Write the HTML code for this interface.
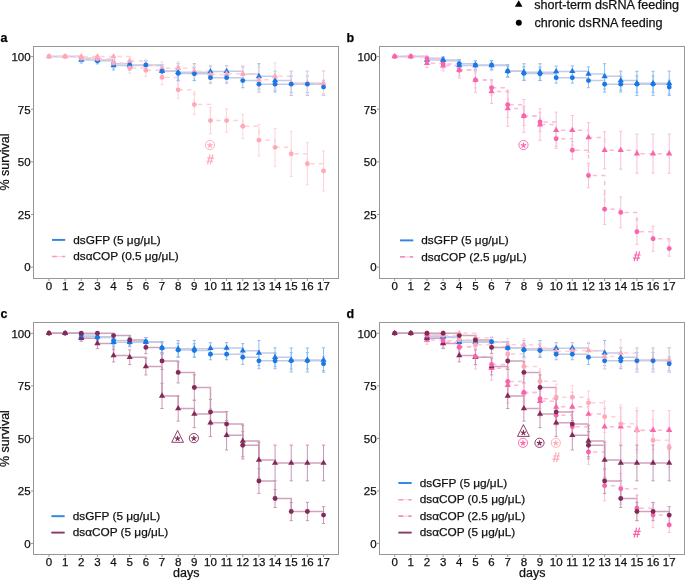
<!DOCTYPE html>
<html><head><meta charset="utf-8"><style>
html,body{margin:0;padding:0;background:#fff;overflow:hidden;width:685px;height:580px;}
svg{display:block;will-change:transform;}
text{font-family:"Liberation Sans",sans-serif;fill:#111;stroke:#111;stroke-width:0.25px;}
.tk{font-size:11.5px;}
.lg{font-size:11.8px;}
.at{font-size:12.5px;}
.tl{font-size:12.6px;}
.pl{font-size:12.5px;font-weight:bold;fill:#000;}
.hs{font-size:14.5px;}
</style></head><body>
<svg width="685" height="580" viewBox="0 0 685 580">
<path d="M48.97,56.57H65.12V56.57H81.27V59.94H97.42V59.94H113.57V65.41H129.72V65.41H145.87V65.41H162.02V71.1H178.17V72.15H194.32V72.15H210.47V71.52H226.62V71.31H242.77V74.05H258.92V76.36H275.07V80.58H291.22V83.31H307.37V83.31H323.52V83.31" fill="none" stroke="#c3cbe6" stroke-width="1.5"/>
<path d="M48.97,56.57H65.12V56.57H81.27V58.25H97.42V60.78H113.57V63.73H129.72V64.99H145.87V64.99H162.02V71.31H178.17V73.42H194.32V73.84H210.47V77.63H226.62V77.63H242.77V80.58H258.92V84.16H275.07V84.16H291.22V84.16H307.37V84.16H323.52V87.1" fill="none" stroke="#c3cbe6" stroke-width="1.5"/>
<path d="M48.97,56.57H65.12V56.57H81.27V56.57H97.42V56.57H113.57V56.57H129.72V60.99H145.87V65.2H162.02V68.15H178.17V68.15H194.32V71.31H210.47V74.47H226.62V73.84H242.77V73.84H258.92V79.73H275.07V76.36H291.22V82.89H307.37V82.89H323.52V83.31" fill="none" stroke="#ffd0d8" stroke-width="1.5" stroke-dasharray="4.285 4.285"/>
<path d="M48.97,56.57H65.12V56.57H81.27V58.25H97.42V58.68H113.57V63.1H129.72V67.94H145.87V70.26H162.02V77.42H178.17V89.84H194.32V104.58H210.47V120.59H226.62V120.59H242.77V126.27H258.92V140.17H275.07V147.33H291.22V153.86H307.37V163.76H323.52V170.91" fill="none" stroke="#ffd0d8" stroke-width="1.5" stroke-dasharray="4.285 4.285"/>
<path d="M81.27,56.78V63.1M79.67,56.78H82.87M79.67,63.1H82.87M97.42,56.78V63.1M95.82,56.78H99.02M95.82,63.1H99.02M113.57,60.78V70.05M111.97,60.78H115.17M111.97,70.05H115.17M129.72,60.78V70.05M128.12,60.78H131.32M128.12,70.05H131.32M145.87,60.78V70.05M144.27,60.78H147.47M144.27,70.05H147.47M162.02,64.78V77.42M160.42,64.78H163.62M160.42,77.42H163.62M178.17,63.73V80.58M176.57,63.73H179.77M176.57,80.58H179.77M194.32,63.73V80.58M192.72,63.73H195.92M192.72,80.58H195.92M210.47,66.05V77M208.87,66.05H212.07M208.87,77H212.07M226.62,65.84V76.79M225.02,65.84H228.22M225.02,76.79H228.22M242.77,66.89V81.21M241.17,66.89H244.37M241.17,81.21H244.37M258.92,63.73V89M257.32,63.73H260.52M257.32,89H260.52M275.07,71.1V90.05M273.47,71.1H276.67M273.47,90.05H276.67M291.22,71.31V95.32M289.62,71.31H292.82M289.62,95.32H292.82M307.37,71.31V95.32M305.77,71.31H308.97M305.77,95.32H308.97M323.52,71.1V95.53M321.92,71.1H325.12M321.92,95.53H325.12" fill="none" stroke="#8fbdf1" stroke-width="1"/>
<path d="M81.27,56.15V60.36M79.67,56.15H82.87M79.67,60.36H82.87M97.42,57.62V63.94M95.82,57.62H99.02M95.82,63.94H99.02M113.57,59.52V67.94M111.97,59.52H115.17M111.97,67.94H115.17M129.72,60.78V69.2M128.12,60.78H131.32M128.12,69.2H131.32M145.87,60.78V69.2M144.27,60.78H147.47M144.27,69.2H147.47M162.02,66.05V76.58M160.42,66.05H163.62M160.42,76.58H163.62M178.17,66.68V80.15M176.57,66.68H179.77M176.57,80.15H179.77M194.32,67.1V80.58M192.72,67.1H195.92M192.72,80.58H195.92M210.47,72.15V83.1M208.87,72.15H212.07M208.87,83.1H212.07M226.62,72.15V83.1M225.02,72.15H228.22M225.02,83.1H228.22M242.77,73.42V87.74M241.17,73.42H244.37M241.17,87.74H244.37M258.92,76.26V92.05M257.32,76.26H260.52M257.32,92.05H260.52M275.07,76.26V92.05M273.47,76.26H276.67M273.47,92.05H276.67M291.22,75.94V92.37M289.62,75.94H292.82M289.62,92.37H292.82M307.37,75.94V92.37M305.77,75.94H308.97M305.77,92.37H308.97M323.52,80.15V94.05M321.92,80.15H325.12M321.92,94.05H325.12" fill="none" stroke="#8fbdf1" stroke-width="1"/>
<path d="M129.72,56.78V65.2M128.12,56.78H131.32M128.12,65.2H131.32M145.87,59.94V70.47M144.27,59.94H147.47M144.27,70.47H147.47M162.02,61.83V74.47M160.42,61.83H163.62M160.42,74.47H163.62M178.17,61.83V74.47M176.57,61.83H179.77M176.57,74.47H179.77M194.32,64.99V77.63M192.72,64.99H195.92M192.72,77.63H195.92M210.47,67.1V81.84M208.87,67.1H212.07M208.87,81.84H212.07M226.62,66.47V81.21M225.02,66.47H228.22M225.02,81.21H228.22M242.77,65.41V82.26M241.17,65.41H244.37M241.17,82.26H244.37M258.92,67.31V92.16M257.32,67.31H260.52M257.32,92.16H260.52M275.07,62.89V89.84M273.47,62.89H276.67M273.47,89.84H276.67M291.22,71.1V94.68M289.62,71.1H292.82M289.62,94.68H292.82M307.37,71.1V94.68M305.77,71.1H308.97M305.77,94.68H308.97M323.52,71.52V95.11M321.92,71.52H325.12M321.92,95.11H325.12" fill="none" stroke="#ffd3db" stroke-width="1"/>
<path d="M81.27,56.15V60.36M79.67,56.15H82.87M79.67,60.36H82.87M97.42,55.52V61.83M95.82,55.52H99.02M95.82,61.83H99.02M113.57,58.89V67.31M111.97,58.89H115.17M111.97,67.31H115.17M129.72,62.68V73.21M128.12,62.68H131.32M128.12,73.21H131.32M145.87,63.94V76.58M144.27,63.94H147.47M144.27,76.58H147.47M162.02,70.05V84.79M160.42,70.05H163.62M160.42,84.79H163.62M178.17,81.42V98.26M176.57,81.42H179.77M176.57,98.26H179.77M194.32,94.47V114.69M192.72,94.47H195.92M192.72,114.69H195.92M210.47,107.53V133.64M208.87,107.53H212.07M208.87,133.64H212.07M226.62,109V132.17M225.02,109H228.22M225.02,132.17H228.22M242.77,114.27V138.28M241.17,114.27H244.37M241.17,138.28H244.37M258.92,124.38V155.96M257.32,124.38H260.52M257.32,155.96H260.52M275.07,128.38V166.28M273.47,128.38H276.67M273.47,166.28H276.67M291.22,131.33V176.39M289.62,131.33H292.82M289.62,176.39H292.82M307.37,142.7V184.81M305.77,142.7H308.97M305.77,184.81H308.97M323.52,150.91V190.92M321.92,150.91H325.12M321.92,190.92H325.12" fill="none" stroke="#ffd3db" stroke-width="1"/>
<path d="M81.27,56.36L84.37,61.73L78.17,61.73Z" fill="#1a78e6"/><path d="M97.42,56.36L100.52,61.73L94.32,61.73Z" fill="#1a78e6"/><path d="M113.57,61.83L116.67,67.2L110.47,67.2Z" fill="#1a78e6"/><path d="M129.72,61.83L132.82,67.2L126.62,67.2Z" fill="#1a78e6"/><path d="M162.02,67.52L165.12,72.89L158.92,72.89Z" fill="#1a78e6"/><path d="M178.17,68.57L181.27,73.94L175.07,73.94Z" fill="#1a78e6"/><path d="M194.32,68.57L197.42,73.94L191.22,73.94Z" fill="#1a78e6"/><path d="M210.47,67.94L213.57,73.31L207.37,73.31Z" fill="#1a78e6"/><path d="M226.62,67.73L229.72,73.1L223.52,73.1Z" fill="#1a78e6"/><path d="M258.92,72.79L262.02,78.15L255.82,78.15Z" fill="#1a78e6"/><path d="M275.07,77L278.17,82.37L271.97,82.37Z" fill="#1a78e6"/>
<path d="M48.97,52.99L52.07,58.36L45.87,58.36Z" fill="#ffa8b8"/><path d="M65.12,52.99L68.22,58.36L62.02,58.36Z" fill="#ffa8b8"/><path d="M81.27,52.99L84.37,58.36L78.17,58.36Z" fill="#ffa8b8"/><path d="M97.42,52.99L100.52,58.36L94.32,58.36Z" fill="#ffa8b8"/><path d="M113.57,52.99L116.67,58.36L110.47,58.36Z" fill="#ffa8b8"/><path d="M129.72,57.41L132.82,62.78L126.62,62.78Z" fill="#ffa8b8"/><path d="M145.87,61.62L148.97,66.99L142.77,66.99Z" fill="#ffa8b8"/><path d="M162.02,64.57L165.12,69.94L158.92,69.94Z" fill="#ffa8b8"/><path d="M178.17,64.57L181.27,69.94L175.07,69.94Z" fill="#ffa8b8"/><path d="M194.32,67.73L197.42,73.1L191.22,73.1Z" fill="#ffa8b8"/><path d="M210.47,70.89L213.57,76.26L207.37,76.26Z" fill="#ffa8b8"/><path d="M226.62,70.26L229.72,75.63L223.52,75.63Z" fill="#ffa8b8"/><path d="M242.77,70.26L245.87,75.63L239.67,75.63Z" fill="#ffa8b8"/><path d="M258.92,76.15L262.02,81.52L255.82,81.52Z" fill="#ffa8b8"/><path d="M275.07,72.79L278.17,78.15L271.97,78.15Z" fill="#ffa8b8"/><path d="M291.22,79.31L294.32,84.68L288.12,84.68Z" fill="#ffa8b8"/><path d="M307.37,79.31L310.47,84.68L304.27,84.68Z" fill="#ffa8b8"/><path d="M323.52,79.73L326.62,85.1L320.42,85.1Z" fill="#ffa8b8"/>
<circle cx="97.42" cy="60.78" r="2.45" fill="#1a78e6"/><circle cx="113.57" cy="63.73" r="2.45" fill="#1a78e6"/><circle cx="129.72" cy="64.99" r="2.45" fill="#1a78e6"/><circle cx="145.87" cy="64.99" r="2.45" fill="#1a78e6"/><circle cx="162.02" cy="71.31" r="2.45" fill="#1a78e6"/><circle cx="178.17" cy="73.42" r="2.45" fill="#1a78e6"/><circle cx="194.32" cy="73.84" r="2.45" fill="#1a78e6"/><circle cx="210.47" cy="77.63" r="2.45" fill="#1a78e6"/><circle cx="226.62" cy="77.63" r="2.45" fill="#1a78e6"/><circle cx="242.77" cy="80.58" r="2.45" fill="#1a78e6"/><circle cx="258.92" cy="84.16" r="2.45" fill="#1a78e6"/><circle cx="275.07" cy="84.16" r="2.45" fill="#1a78e6"/><circle cx="291.22" cy="84.16" r="2.45" fill="#1a78e6"/><circle cx="307.37" cy="84.16" r="2.45" fill="#1a78e6"/><circle cx="323.52" cy="87.1" r="2.45" fill="#1a78e6"/>
<circle cx="48.97" cy="56.57" r="2.45" fill="#ffa8b8"/><circle cx="65.12" cy="56.57" r="2.45" fill="#ffa8b8"/><circle cx="81.27" cy="58.25" r="2.45" fill="#ffa8b8"/><circle cx="97.42" cy="58.68" r="2.45" fill="#ffa8b8"/><circle cx="113.57" cy="63.1" r="2.45" fill="#ffa8b8"/><circle cx="129.72" cy="67.94" r="2.45" fill="#ffa8b8"/><circle cx="145.87" cy="70.26" r="2.45" fill="#ffa8b8"/><circle cx="162.02" cy="77.42" r="2.45" fill="#ffa8b8"/><circle cx="178.17" cy="89.84" r="2.45" fill="#ffa8b8"/><circle cx="194.32" cy="104.58" r="2.45" fill="#ffa8b8"/><circle cx="210.47" cy="120.59" r="2.45" fill="#ffa8b8"/><circle cx="226.62" cy="120.59" r="2.45" fill="#ffa8b8"/><circle cx="242.77" cy="126.27" r="2.45" fill="#ffa8b8"/><circle cx="258.92" cy="140.17" r="2.45" fill="#ffa8b8"/><circle cx="275.07" cy="147.33" r="2.45" fill="#ffa8b8"/><circle cx="291.22" cy="153.86" r="2.45" fill="#ffa8b8"/><circle cx="307.37" cy="163.76" r="2.45" fill="#ffa8b8"/><circle cx="323.52" cy="170.91" r="2.45" fill="#ffa8b8"/>
<rect x="33.5" y="46.5" width="305" height="232" fill="none" stroke="#979797" stroke-width="1"/>
<path d="M31,267.15H33.5" stroke="#979797" stroke-width="1"/>
<text x="30.6" y="271.45" text-anchor="end" class="tk">0</text>
<path d="M31,214.5H33.5" stroke="#979797" stroke-width="1"/>
<text x="30.6" y="218.81" text-anchor="end" class="tk">25</text>
<path d="M31,161.86H33.5" stroke="#979797" stroke-width="1"/>
<text x="30.6" y="166.16" text-anchor="end" class="tk">50</text>
<path d="M31,109.21H33.5" stroke="#979797" stroke-width="1"/>
<text x="30.6" y="113.51" text-anchor="end" class="tk">75</text>
<path d="M31,56.57H33.5" stroke="#979797" stroke-width="1"/>
<text x="30.6" y="60.87" text-anchor="end" class="tk">100</text>
<path d="M48.97,278.5V281" stroke="#979797" stroke-width="1"/>
<text x="48.97" y="289.9" text-anchor="middle" class="tk">0</text>
<path d="M65.12,278.5V281" stroke="#979797" stroke-width="1"/>
<text x="65.12" y="289.9" text-anchor="middle" class="tk">1</text>
<path d="M81.27,278.5V281" stroke="#979797" stroke-width="1"/>
<text x="81.27" y="289.9" text-anchor="middle" class="tk">2</text>
<path d="M97.42,278.5V281" stroke="#979797" stroke-width="1"/>
<text x="97.42" y="289.9" text-anchor="middle" class="tk">3</text>
<path d="M113.57,278.5V281" stroke="#979797" stroke-width="1"/>
<text x="113.57" y="289.9" text-anchor="middle" class="tk">4</text>
<path d="M129.72,278.5V281" stroke="#979797" stroke-width="1"/>
<text x="129.72" y="289.9" text-anchor="middle" class="tk">5</text>
<path d="M145.87,278.5V281" stroke="#979797" stroke-width="1"/>
<text x="145.87" y="289.9" text-anchor="middle" class="tk">6</text>
<path d="M162.02,278.5V281" stroke="#979797" stroke-width="1"/>
<text x="162.02" y="289.9" text-anchor="middle" class="tk">7</text>
<path d="M178.17,278.5V281" stroke="#979797" stroke-width="1"/>
<text x="178.17" y="289.9" text-anchor="middle" class="tk">8</text>
<path d="M194.32,278.5V281" stroke="#979797" stroke-width="1"/>
<text x="194.32" y="289.9" text-anchor="middle" class="tk">9</text>
<path d="M210.47,278.5V281" stroke="#979797" stroke-width="1"/>
<text x="210.47" y="289.9" text-anchor="middle" class="tk">10</text>
<path d="M226.62,278.5V281" stroke="#979797" stroke-width="1"/>
<text x="226.62" y="289.9" text-anchor="middle" class="tk">11</text>
<path d="M242.77,278.5V281" stroke="#979797" stroke-width="1"/>
<text x="242.77" y="289.9" text-anchor="middle" class="tk">12</text>
<path d="M258.92,278.5V281" stroke="#979797" stroke-width="1"/>
<text x="258.92" y="289.9" text-anchor="middle" class="tk">13</text>
<path d="M275.07,278.5V281" stroke="#979797" stroke-width="1"/>
<text x="275.07" y="289.9" text-anchor="middle" class="tk">14</text>
<path d="M291.22,278.5V281" stroke="#979797" stroke-width="1"/>
<text x="291.22" y="289.9" text-anchor="middle" class="tk">15</text>
<path d="M307.37,278.5V281" stroke="#979797" stroke-width="1"/>
<text x="307.37" y="289.9" text-anchor="middle" class="tk">16</text>
<path d="M323.52,278.5V281" stroke="#979797" stroke-width="1"/>
<text x="323.52" y="289.9" text-anchor="middle" class="tk">17</text>
<path d="M394.67,56.57H410.82V56.57H426.97V59.94H443.12V59.94H459.27V65.41H475.42V65.41H491.57V65.41H507.72V71.1H523.87V72.15H540.02V72.15H556.17V71.52H572.32V71.31H588.47V74.05H604.62V76.36H620.77V80.58H636.92V83.31H653.07V83.31H669.22V83.31" fill="none" stroke="#c3cbe6" stroke-width="1.5"/>
<path d="M394.67,56.57H410.82V56.57H426.97V58.25H443.12V60.78H459.27V63.73H475.42V64.99H491.57V64.99H507.72V71.31H523.87V73.42H540.02V73.84H556.17V77.63H572.32V77.63H588.47V80.58H604.62V84.16H620.77V84.16H636.92V84.16H653.07V84.16H669.22V87.1" fill="none" stroke="#c3cbe6" stroke-width="1.5"/>
<path d="M394.67,56.57H410.82V56.57H426.97V63.31H443.12V65.62H459.27V69.84H475.42V79.94H491.57V91.53H507.72V108.58H523.87V115.95H540.02V124.59H556.17V130.27H572.32V130.27H588.47V137.43H604.62V150.28H620.77V150.28H636.92V153.65H653.07V153.65H669.22V153.65" fill="none" stroke="#fbbcd8" stroke-width="1.5" stroke-dasharray="4.285 4.285"/>
<path d="M394.67,56.57H410.82V56.57H426.97V58.68H443.12V63.94H459.27V70.26H475.42V79.94H491.57V87.74H507.72V104.79H523.87V115.95H540.02V122.06H556.17V138.7H572.32V150.28H588.47V175.55H604.62V209.24H620.77V212.4H636.92V231.77H653.07V238.72H669.22V248.62" fill="none" stroke="#fbbcd8" stroke-width="1.5" stroke-dasharray="4.285 4.285"/>
<path d="M426.97,56.78V63.1M425.37,56.78H428.57M425.37,63.1H428.57M443.12,56.78V63.1M441.52,56.78H444.72M441.52,63.1H444.72M459.27,60.78V70.05M457.67,60.78H460.87M457.67,70.05H460.87M475.42,60.78V70.05M473.82,60.78H477.02M473.82,70.05H477.02M491.57,60.78V70.05M489.97,60.78H493.17M489.97,70.05H493.17M507.72,64.78V77.42M506.12,64.78H509.32M506.12,77.42H509.32M523.87,63.73V80.58M522.27,63.73H525.47M522.27,80.58H525.47M540.02,63.73V80.58M538.42,63.73H541.62M538.42,80.58H541.62M556.17,66.05V77M554.57,66.05H557.77M554.57,77H557.77M572.32,65.84V76.79M570.72,65.84H573.92M570.72,76.79H573.92M588.47,66.89V81.21M586.87,66.89H590.07M586.87,81.21H590.07M604.62,63.73V89M603.02,63.73H606.22M603.02,89H606.22M620.77,71.1V90.05M619.17,71.1H622.37M619.17,90.05H622.37M636.92,71.31V95.32M635.32,71.31H638.52M635.32,95.32H638.52M653.07,71.31V95.32M651.47,71.31H654.67M651.47,95.32H654.67M669.22,71.1V95.53M667.62,71.1H670.82M667.62,95.53H670.82" fill="none" stroke="#8fbdf1" stroke-width="1"/>
<path d="M426.97,56.15V60.36M425.37,56.15H428.57M425.37,60.36H428.57M443.12,57.62V63.94M441.52,57.62H444.72M441.52,63.94H444.72M459.27,59.52V67.94M457.67,59.52H460.87M457.67,67.94H460.87M475.42,60.78V69.2M473.82,60.78H477.02M473.82,69.2H477.02M491.57,60.78V69.2M489.97,60.78H493.17M489.97,69.2H493.17M507.72,66.05V76.58M506.12,66.05H509.32M506.12,76.58H509.32M523.87,66.68V80.15M522.27,66.68H525.47M522.27,80.15H525.47M540.02,67.1V80.58M538.42,67.1H541.62M538.42,80.58H541.62M556.17,72.15V83.1M554.57,72.15H557.77M554.57,83.1H557.77M572.32,72.15V83.1M570.72,72.15H573.92M570.72,83.1H573.92M588.47,73.42V87.74M586.87,73.42H590.07M586.87,87.74H590.07M604.62,76.26V92.05M603.02,76.26H606.22M603.02,92.05H606.22M620.77,76.26V92.05M619.17,76.26H622.37M619.17,92.05H622.37M636.92,75.94V92.37M635.32,75.94H638.52M635.32,92.37H638.52M653.07,75.94V92.37M651.47,75.94H654.67M651.47,92.37H654.67M669.22,80.15V94.05M667.62,80.15H670.82M667.62,94.05H670.82" fill="none" stroke="#8fbdf1" stroke-width="1"/>
<path d="M426.97,59.1V67.52M425.37,59.1H428.57M425.37,67.52H428.57M443.12,60.36V70.89M441.52,60.36H444.72M441.52,70.89H444.72M459.27,63.52V76.15M457.67,63.52H460.87M457.67,76.15H460.87M475.42,67.52V92.37M473.82,67.52H477.02M473.82,92.37H477.02M491.57,79.52V103.53M489.97,79.52H493.17M489.97,103.53H493.17M507.72,90.89V126.27M506.12,90.89H509.32M506.12,126.27H509.32M523.87,99.53V132.38M522.27,99.53H525.47M522.27,132.38H525.47M540.02,108.79V140.38M538.42,108.79H541.62M538.42,140.38H541.62M556.17,112.16V148.38M554.57,112.16H557.77M554.57,148.38H557.77M572.32,115.53V145.01M570.72,115.53H573.92M570.72,145.01H573.92M588.47,122.69V152.17M586.87,122.69H590.07M586.87,152.17H590.07M604.62,131.75V168.81M603.02,131.75H606.22M603.02,168.81H606.22M620.77,131.33V169.23M619.17,131.33H622.37M619.17,169.23H622.37M636.92,134.06V173.23M635.32,134.06H638.52M635.32,173.23H638.52M653.07,134.06V173.23M651.47,134.06H654.67M651.47,173.23H654.67M669.22,134.06V173.23M667.62,134.06H670.82M667.62,173.23H670.82" fill="none" stroke="#fbbfdb" stroke-width="1"/>
<path d="M426.97,56.57V60.78M425.37,56.57H428.57M425.37,60.78H428.57M443.12,59.73V68.15M441.52,59.73H444.72M441.52,68.15H444.72M459.27,62.36V78.15M457.67,62.36H460.87M457.67,78.15H460.87M475.42,71.94V87.95M473.82,71.94H477.02M473.82,87.95H477.02M491.57,80.37V95.11M489.97,80.37H493.17M489.97,95.11H493.17M507.72,92.16V117.43M506.12,92.16H509.32M506.12,117.43H509.32M523.87,106.48V125.43M522.27,106.48H525.47M522.27,125.43H525.47M540.02,112.37V131.75M538.42,112.37H541.62M538.42,131.75H541.62M556.17,131.12V146.28M554.57,131.12H557.77M554.57,146.28H557.77M572.32,141.43V159.12M570.72,141.43H573.92M570.72,159.12H573.92M588.47,163.33V187.76M586.87,163.33H590.07M586.87,187.76H590.07M604.62,194.08V224.4M603.02,194.08H606.22M603.02,224.4H606.22M620.77,197.03V227.77M619.17,197.03H622.37M619.17,227.77H622.37M636.92,219.14V244.41M635.32,219.14H638.52M635.32,244.41H638.52M653.07,226.09V251.36M651.47,226.09H654.67M651.47,251.36H654.67M669.22,241.04V256.2M667.62,241.04H670.82M667.62,256.2H670.82" fill="none" stroke="#fbbfdb" stroke-width="1"/>
<path d="M426.97,56.36L430.07,61.73L423.87,61.73Z" fill="#1a78e6"/><path d="M443.12,56.36L446.22,61.73L440.02,61.73Z" fill="#1a78e6"/><path d="M459.27,61.83L462.37,67.2L456.17,67.2Z" fill="#1a78e6"/><path d="M475.42,61.83L478.52,67.2L472.32,67.2Z" fill="#1a78e6"/><path d="M491.57,61.83L494.67,67.2L488.47,67.2Z" fill="#1a78e6"/><path d="M507.72,67.52L510.82,72.89L504.62,72.89Z" fill="#1a78e6"/><path d="M523.87,68.57L526.97,73.94L520.77,73.94Z" fill="#1a78e6"/><path d="M540.02,68.57L543.12,73.94L536.92,73.94Z" fill="#1a78e6"/><path d="M556.17,67.94L559.27,73.31L553.07,73.31Z" fill="#1a78e6"/><path d="M572.32,67.73L575.42,73.1L569.22,73.1Z" fill="#1a78e6"/><path d="M588.47,70.47L591.57,75.84L585.37,75.84Z" fill="#1a78e6"/><path d="M604.62,72.79L607.72,78.15L601.52,78.15Z" fill="#1a78e6"/><path d="M620.77,77L623.87,82.37L617.67,82.37Z" fill="#1a78e6"/><path d="M636.92,79.73L640.02,85.1L633.82,85.1Z" fill="#1a78e6"/><path d="M653.07,79.73L656.17,85.1L649.97,85.1Z" fill="#1a78e6"/><path d="M669.22,79.73L672.32,85.1L666.12,85.1Z" fill="#1a78e6"/>
<path d="M394.67,52.99L397.77,58.36L391.57,58.36Z" fill="#fa64aa"/><path d="M410.82,52.99L413.92,58.36L407.72,58.36Z" fill="#fa64aa"/><path d="M426.97,59.73L430.07,65.1L423.87,65.1Z" fill="#fa64aa"/><path d="M443.12,62.05L446.22,67.41L440.02,67.41Z" fill="#fa64aa"/><path d="M459.27,66.26L462.37,71.63L456.17,71.63Z" fill="#fa64aa"/><path d="M475.42,76.36L478.52,81.73L472.32,81.73Z" fill="#fa64aa"/><path d="M491.57,87.95L494.67,93.32L488.47,93.32Z" fill="#fa64aa"/><path d="M507.72,105L510.82,110.37L504.62,110.37Z" fill="#fa64aa"/><path d="M523.87,112.37L526.97,117.74L520.77,117.74Z" fill="#fa64aa"/><path d="M540.02,121.01L543.12,126.38L536.92,126.38Z" fill="#fa64aa"/><path d="M556.17,126.69L559.27,132.06L553.07,132.06Z" fill="#fa64aa"/><path d="M572.32,126.69L575.42,132.06L569.22,132.06Z" fill="#fa64aa"/><path d="M588.47,133.85L591.57,139.22L585.37,139.22Z" fill="#fa64aa"/><path d="M604.62,146.7L607.72,152.07L601.52,152.07Z" fill="#fa64aa"/><path d="M620.77,146.7L623.87,152.07L617.67,152.07Z" fill="#fa64aa"/><path d="M636.92,150.07L640.02,155.44L633.82,155.44Z" fill="#fa64aa"/><path d="M653.07,150.07L656.17,155.44L649.97,155.44Z" fill="#fa64aa"/><path d="M669.22,150.07L672.32,155.44L666.12,155.44Z" fill="#fa64aa"/>
<circle cx="443.12" cy="60.78" r="2.45" fill="#1a78e6"/><circle cx="459.27" cy="63.73" r="2.45" fill="#1a78e6"/><circle cx="475.42" cy="64.99" r="2.45" fill="#1a78e6"/><circle cx="491.57" cy="64.99" r="2.45" fill="#1a78e6"/><circle cx="507.72" cy="71.31" r="2.45" fill="#1a78e6"/><circle cx="523.87" cy="73.42" r="2.45" fill="#1a78e6"/><circle cx="540.02" cy="73.84" r="2.45" fill="#1a78e6"/><circle cx="556.17" cy="77.63" r="2.45" fill="#1a78e6"/><circle cx="572.32" cy="77.63" r="2.45" fill="#1a78e6"/><circle cx="588.47" cy="80.58" r="2.45" fill="#1a78e6"/><circle cx="604.62" cy="84.16" r="2.45" fill="#1a78e6"/><circle cx="620.77" cy="84.16" r="2.45" fill="#1a78e6"/><circle cx="636.92" cy="84.16" r="2.45" fill="#1a78e6"/><circle cx="653.07" cy="84.16" r="2.45" fill="#1a78e6"/><circle cx="669.22" cy="87.1" r="2.45" fill="#1a78e6"/>
<circle cx="394.67" cy="56.57" r="2.45" fill="#fa64aa"/><circle cx="410.82" cy="56.57" r="2.45" fill="#fa64aa"/><circle cx="426.97" cy="58.68" r="2.45" fill="#fa64aa"/><circle cx="443.12" cy="63.94" r="2.45" fill="#fa64aa"/><circle cx="459.27" cy="70.26" r="2.45" fill="#fa64aa"/><circle cx="475.42" cy="79.94" r="2.45" fill="#fa64aa"/><circle cx="491.57" cy="87.74" r="2.45" fill="#fa64aa"/><circle cx="507.72" cy="104.79" r="2.45" fill="#fa64aa"/><circle cx="523.87" cy="115.95" r="2.45" fill="#fa64aa"/><circle cx="540.02" cy="122.06" r="2.45" fill="#fa64aa"/><circle cx="556.17" cy="138.7" r="2.45" fill="#fa64aa"/><circle cx="572.32" cy="150.28" r="2.45" fill="#fa64aa"/><circle cx="588.47" cy="175.55" r="2.45" fill="#fa64aa"/><circle cx="604.62" cy="209.24" r="2.45" fill="#fa64aa"/><circle cx="620.77" cy="212.4" r="2.45" fill="#fa64aa"/><circle cx="636.92" cy="231.77" r="2.45" fill="#fa64aa"/><circle cx="653.07" cy="238.72" r="2.45" fill="#fa64aa"/><circle cx="669.22" cy="248.62" r="2.45" fill="#fa64aa"/>
<rect x="379.5" y="46.5" width="305" height="232" fill="none" stroke="#979797" stroke-width="1"/>
<path d="M377,267.15H379.5" stroke="#979797" stroke-width="1"/>
<text x="376.6" y="271.45" text-anchor="end" class="tk">0</text>
<path d="M377,214.5H379.5" stroke="#979797" stroke-width="1"/>
<text x="376.6" y="218.81" text-anchor="end" class="tk">25</text>
<path d="M377,161.86H379.5" stroke="#979797" stroke-width="1"/>
<text x="376.6" y="166.16" text-anchor="end" class="tk">50</text>
<path d="M377,109.21H379.5" stroke="#979797" stroke-width="1"/>
<text x="376.6" y="113.51" text-anchor="end" class="tk">75</text>
<path d="M377,56.57H379.5" stroke="#979797" stroke-width="1"/>
<text x="376.6" y="60.87" text-anchor="end" class="tk">100</text>
<path d="M394.67,278.5V281" stroke="#979797" stroke-width="1"/>
<text x="394.67" y="289.9" text-anchor="middle" class="tk">0</text>
<path d="M410.82,278.5V281" stroke="#979797" stroke-width="1"/>
<text x="410.82" y="289.9" text-anchor="middle" class="tk">1</text>
<path d="M426.97,278.5V281" stroke="#979797" stroke-width="1"/>
<text x="426.97" y="289.9" text-anchor="middle" class="tk">2</text>
<path d="M443.12,278.5V281" stroke="#979797" stroke-width="1"/>
<text x="443.12" y="289.9" text-anchor="middle" class="tk">3</text>
<path d="M459.27,278.5V281" stroke="#979797" stroke-width="1"/>
<text x="459.27" y="289.9" text-anchor="middle" class="tk">4</text>
<path d="M475.42,278.5V281" stroke="#979797" stroke-width="1"/>
<text x="475.42" y="289.9" text-anchor="middle" class="tk">5</text>
<path d="M491.57,278.5V281" stroke="#979797" stroke-width="1"/>
<text x="491.57" y="289.9" text-anchor="middle" class="tk">6</text>
<path d="M507.72,278.5V281" stroke="#979797" stroke-width="1"/>
<text x="507.72" y="289.9" text-anchor="middle" class="tk">7</text>
<path d="M523.87,278.5V281" stroke="#979797" stroke-width="1"/>
<text x="523.87" y="289.9" text-anchor="middle" class="tk">8</text>
<path d="M540.02,278.5V281" stroke="#979797" stroke-width="1"/>
<text x="540.02" y="289.9" text-anchor="middle" class="tk">9</text>
<path d="M556.17,278.5V281" stroke="#979797" stroke-width="1"/>
<text x="556.17" y="289.9" text-anchor="middle" class="tk">10</text>
<path d="M572.32,278.5V281" stroke="#979797" stroke-width="1"/>
<text x="572.32" y="289.9" text-anchor="middle" class="tk">11</text>
<path d="M588.47,278.5V281" stroke="#979797" stroke-width="1"/>
<text x="588.47" y="289.9" text-anchor="middle" class="tk">12</text>
<path d="M604.62,278.5V281" stroke="#979797" stroke-width="1"/>
<text x="604.62" y="289.9" text-anchor="middle" class="tk">13</text>
<path d="M620.77,278.5V281" stroke="#979797" stroke-width="1"/>
<text x="620.77" y="289.9" text-anchor="middle" class="tk">14</text>
<path d="M636.92,278.5V281" stroke="#979797" stroke-width="1"/>
<text x="636.92" y="289.9" text-anchor="middle" class="tk">15</text>
<path d="M653.07,278.5V281" stroke="#979797" stroke-width="1"/>
<text x="653.07" y="289.9" text-anchor="middle" class="tk">16</text>
<path d="M669.22,278.5V281" stroke="#979797" stroke-width="1"/>
<text x="669.22" y="289.9" text-anchor="middle" class="tk">17</text>
<path d="M48.97,333.3H65.12V333.3H81.27V336.66H97.42V336.66H113.57V342.13H129.72V342.13H145.87V342.13H162.02V347.8H178.17V348.85H194.32V348.85H210.47V348.22H226.62V348.01H242.77V350.74H258.92V353.05H275.07V357.26H291.22V359.99H307.37V359.99H323.52V359.99" fill="none" stroke="#c3cbe6" stroke-width="1.5"/>
<path d="M48.97,333.3H65.12V333.3H81.27V334.98H97.42V337.5H113.57V340.45H129.72V341.71H145.87V341.71H162.02V348.01H178.17V350.11H194.32V350.53H210.47V354.32H226.62V354.32H242.77V357.26H258.92V360.83H275.07V360.83H291.22V360.83H307.37V360.83H323.52V363.77" fill="none" stroke="#c3cbe6" stroke-width="1.5"/>
<path d="M48.97,333.3H65.12V333.3H81.27V338.13H97.42V343.39H113.57V355.58H129.72V357.26H145.87V366.5H162.02V395.92H178.17V408.53H194.32V414H210.47V422.82H226.62V435.22H242.77V441H258.92V460.02H275.07V462.96H291.22V462.96H307.37V462.96H323.52V462.96" fill="none" stroke="#cfa3bb" stroke-width="1.5"/>
<path d="M48.97,333.3H65.12V333.3H81.27V333.3H97.42V333.3H113.57V335.61H129.72V340.02H145.87V347.38H162.02V361.04H178.17V372.39H194.32V387.52H210.47V412.11H226.62V424.08H242.77V445.31H258.92V481.04H275.07V498.48H291.22V511.51H307.37V511.51H323.52V515.08" fill="none" stroke="#cfa3bb" stroke-width="1.5"/>
<path d="M81.27,333.51V339.81M79.67,333.51H82.87M79.67,339.81H82.87M97.42,333.51V339.81M95.82,333.51H99.02M95.82,339.81H99.02M113.57,337.5V346.75M111.97,337.5H115.17M111.97,346.75H115.17M129.72,337.5V346.75M128.12,337.5H131.32M128.12,346.75H131.32M145.87,337.5V346.75M144.27,337.5H147.47M144.27,346.75H147.47M162.02,341.5V354.1M160.42,341.5H163.62M160.42,354.1H163.62M178.17,340.45V357.26M176.57,340.45H179.77M176.57,357.26H179.77M194.32,340.45V357.26M192.72,340.45H195.92M192.72,357.26H195.92M210.47,342.76V353.68M208.87,342.76H212.07M208.87,353.68H212.07M226.62,342.55V353.47M225.02,342.55H228.22M225.02,353.47H228.22M242.77,343.6V357.89M241.17,343.6H244.37M241.17,357.89H244.37M258.92,340.45V365.66M257.32,340.45H260.52M257.32,365.66H260.52M275.07,347.8V366.71M273.47,347.8H276.67M273.47,366.71H276.67M291.22,348.01V371.97M289.62,348.01H292.82M289.62,371.97H292.82M307.37,348.01V371.97M305.77,348.01H308.97M305.77,371.97H308.97M323.52,347.8V372.18M321.92,347.8H325.12M321.92,372.18H325.12" fill="none" stroke="#8fbdf1" stroke-width="1"/>
<path d="M81.27,332.88V337.08M79.67,332.88H82.87M79.67,337.08H82.87M97.42,334.35V340.66M95.82,334.35H99.02M95.82,340.66H99.02M113.57,336.24V344.65M111.97,336.24H115.17M111.97,344.65H115.17M129.72,337.5V345.91M128.12,337.5H131.32M128.12,345.91H131.32M145.87,337.5V345.91M144.27,337.5H147.47M144.27,345.91H147.47M162.02,342.76V353.26M160.42,342.76H163.62M160.42,353.26H163.62M178.17,343.39V356.84M176.57,343.39H179.77M176.57,356.84H179.77M194.32,343.81V357.26M192.72,343.81H195.92M192.72,357.26H195.92M210.47,348.85V359.78M208.87,348.85H212.07M208.87,359.78H212.07M226.62,348.85V359.78M225.02,348.85H228.22M225.02,359.78H228.22M242.77,350.11V364.4M241.17,350.11H244.37M241.17,364.4H244.37M258.92,352.95V368.71M257.32,352.95H260.52M257.32,368.71H260.52M275.07,352.95V368.71M273.47,352.95H276.67M273.47,368.71H276.67M291.22,352.63V369.03M289.62,352.63H292.82M289.62,369.03H292.82M307.37,352.63V369.03M305.77,352.63H308.97M305.77,369.03H308.97M323.52,356.84V370.71M321.92,356.84H325.12M321.92,370.71H325.12" fill="none" stroke="#8fbdf1" stroke-width="1"/>
<path d="M81.27,334.98V341.29M79.67,334.98H82.87M79.67,341.29H82.87M97.42,338.13V348.64M95.82,338.13H99.02M95.82,348.64H99.02M113.57,349.27V361.88M111.97,349.27H115.17M111.97,361.88H115.17M129.72,349.9V364.61M128.12,349.9H131.32M128.12,364.61H131.32M145.87,358.1V374.91M144.27,358.1H147.47M144.27,374.91H147.47M162.02,383.32V408.53M160.42,383.32H163.62M160.42,408.53H163.62M178.17,395.92V421.14M176.57,395.92H179.77M176.57,421.14H179.77M194.32,400.34V427.66M192.72,400.34H195.92M192.72,427.66H195.92M210.47,409.16V436.48M208.87,409.16H212.07M208.87,436.48H212.07M226.62,420.51V449.93M225.02,420.51H228.22M225.02,449.93H228.22M242.77,425.24V456.76M241.17,425.24H244.37M241.17,456.76H244.37M258.92,442.16V477.88M257.32,442.16H260.52M257.32,477.88H260.52M275.07,445.1V480.83M273.47,445.1H276.67M273.47,480.83H276.67M291.22,445.1V480.83M289.62,445.1H292.82M289.62,480.83H292.82M307.37,445.1V480.83M305.77,445.1H308.97M305.77,480.83H308.97M323.52,445.1V480.83M321.92,445.1H325.12M321.92,480.83H325.12" fill="none" stroke="#c996b3" stroke-width="1"/>
<path d="M113.57,333.51V337.71M111.97,333.51H115.17M111.97,337.71H115.17M129.72,335.82V344.23M128.12,335.82H131.32M128.12,344.23H131.32M145.87,341.08V353.68M144.27,341.08H147.47M144.27,353.68H147.47M162.02,352.63V369.45M160.42,352.63H163.62M160.42,369.45H163.62M178.17,361.88V382.9M176.57,361.88H179.77M176.57,382.9H179.77M194.32,374.91V400.13M192.72,374.91H195.92M192.72,400.13H195.92M210.47,399.5V424.72M208.87,399.5H212.07M208.87,424.72H212.07M226.62,411.48V436.69M225.02,411.48H228.22M225.02,436.69H228.22M242.77,431.65V458.97M241.17,431.65H244.37M241.17,458.97H244.37M258.92,468.74V493.33M257.32,468.74H260.52M257.32,493.33H260.52M275.07,489.44V507.51M273.47,489.44H276.67M273.47,507.51H276.67M291.22,502.37V520.65M289.62,502.37H292.82M289.62,520.65H292.82M307.37,502.37V520.65M305.77,502.37H308.97M305.77,520.65H308.97M323.52,506.67V523.49M321.92,506.67H325.12M321.92,523.49H325.12" fill="none" stroke="#c996b3" stroke-width="1"/>
<path d="M81.27,333.08L84.37,338.45L78.17,338.45Z" fill="#1a78e6"/><path d="M97.42,333.08L100.52,338.45L94.32,338.45Z" fill="#1a78e6"/><path d="M113.57,338.55L116.67,343.92L110.47,343.92Z" fill="#1a78e6"/><path d="M129.72,338.55L132.82,343.92L126.62,343.92Z" fill="#1a78e6"/><path d="M145.87,338.55L148.97,343.92L142.77,343.92Z" fill="#1a78e6"/><path d="M162.02,344.22L165.12,349.59L158.92,349.59Z" fill="#1a78e6"/><path d="M178.17,345.27L181.27,350.64L175.07,350.64Z" fill="#1a78e6"/><path d="M194.32,345.27L197.42,350.64L191.22,350.64Z" fill="#1a78e6"/><path d="M210.47,344.64L213.57,350.01L207.37,350.01Z" fill="#1a78e6"/><path d="M226.62,344.43L229.72,349.8L223.52,349.8Z" fill="#1a78e6"/><path d="M242.77,347.16L245.87,352.53L239.67,352.53Z" fill="#1a78e6"/><path d="M258.92,349.47L262.02,354.84L255.82,354.84Z" fill="#1a78e6"/><path d="M275.07,353.68L278.17,359.05L271.97,359.05Z" fill="#1a78e6"/><path d="M291.22,356.41L294.32,361.78L288.12,361.78Z" fill="#1a78e6"/><path d="M307.37,356.41L310.47,361.78L304.27,361.78Z" fill="#1a78e6"/><path d="M323.52,356.41L326.62,361.78L320.42,361.78Z" fill="#1a78e6"/>
<path d="M48.97,329.72L52.07,335.09L45.87,335.09Z" fill="#822a5a"/><path d="M65.12,329.72L68.22,335.09L62.02,335.09Z" fill="#822a5a"/><path d="M81.27,334.55L84.37,339.92L78.17,339.92Z" fill="#822a5a"/><path d="M97.42,339.81L100.52,345.18L94.32,345.18Z" fill="#822a5a"/><path d="M113.57,352L116.67,357.37L110.47,357.37Z" fill="#822a5a"/><path d="M129.72,353.68L132.82,359.05L126.62,359.05Z" fill="#822a5a"/><path d="M145.87,362.92L148.97,368.29L142.77,368.29Z" fill="#822a5a"/><path d="M162.02,392.35L165.12,397.71L158.92,397.71Z" fill="#822a5a"/><path d="M178.17,404.95L181.27,410.32L175.07,410.32Z" fill="#822a5a"/><path d="M194.32,410.42L197.42,415.79L191.22,415.79Z" fill="#822a5a"/><path d="M210.47,419.24L213.57,424.61L207.37,424.61Z" fill="#822a5a"/><path d="M226.62,431.64L229.72,437.01L223.52,437.01Z" fill="#822a5a"/><path d="M242.77,437.42L245.87,442.79L239.67,442.79Z" fill="#822a5a"/><path d="M258.92,456.44L262.02,461.81L255.82,461.81Z" fill="#822a5a"/><path d="M275.07,459.38L278.17,464.75L271.97,464.75Z" fill="#822a5a"/><path d="M291.22,459.38L294.32,464.75L288.12,464.75Z" fill="#822a5a"/><path d="M307.37,459.38L310.47,464.75L304.27,464.75Z" fill="#822a5a"/><path d="M323.52,459.38L326.62,464.75L320.42,464.75Z" fill="#822a5a"/>
<circle cx="81.27" cy="334.98" r="2.45" fill="#1a78e6"/><circle cx="97.42" cy="337.5" r="2.45" fill="#1a78e6"/><circle cx="113.57" cy="340.45" r="2.45" fill="#1a78e6"/><circle cx="129.72" cy="341.71" r="2.45" fill="#1a78e6"/><circle cx="145.87" cy="341.71" r="2.45" fill="#1a78e6"/><circle cx="162.02" cy="348.01" r="2.45" fill="#1a78e6"/><circle cx="178.17" cy="350.11" r="2.45" fill="#1a78e6"/><circle cx="194.32" cy="350.53" r="2.45" fill="#1a78e6"/><circle cx="210.47" cy="354.32" r="2.45" fill="#1a78e6"/><circle cx="226.62" cy="354.32" r="2.45" fill="#1a78e6"/><circle cx="242.77" cy="357.26" r="2.45" fill="#1a78e6"/><circle cx="258.92" cy="360.83" r="2.45" fill="#1a78e6"/><circle cx="275.07" cy="360.83" r="2.45" fill="#1a78e6"/><circle cx="291.22" cy="360.83" r="2.45" fill="#1a78e6"/><circle cx="307.37" cy="360.83" r="2.45" fill="#1a78e6"/><circle cx="323.52" cy="363.77" r="2.45" fill="#1a78e6"/>
<circle cx="48.97" cy="333.3" r="2.45" fill="#822a5a"/><circle cx="65.12" cy="333.3" r="2.45" fill="#822a5a"/><circle cx="81.27" cy="333.3" r="2.45" fill="#822a5a"/><circle cx="97.42" cy="333.3" r="2.45" fill="#822a5a"/><circle cx="113.57" cy="335.61" r="2.45" fill="#822a5a"/><circle cx="129.72" cy="340.02" r="2.45" fill="#822a5a"/><circle cx="145.87" cy="347.38" r="2.45" fill="#822a5a"/><circle cx="162.02" cy="361.04" r="2.45" fill="#822a5a"/><circle cx="178.17" cy="372.39" r="2.45" fill="#822a5a"/><circle cx="194.32" cy="387.52" r="2.45" fill="#822a5a"/><circle cx="210.47" cy="412.11" r="2.45" fill="#822a5a"/><circle cx="226.62" cy="424.08" r="2.45" fill="#822a5a"/><circle cx="242.77" cy="445.31" r="2.45" fill="#822a5a"/><circle cx="258.92" cy="481.04" r="2.45" fill="#822a5a"/><circle cx="275.07" cy="498.48" r="2.45" fill="#822a5a"/><circle cx="291.22" cy="511.51" r="2.45" fill="#822a5a"/><circle cx="307.37" cy="511.51" r="2.45" fill="#822a5a"/><circle cx="323.52" cy="515.08" r="2.45" fill="#822a5a"/>
<rect x="33.5" y="322.5" width="305" height="232" fill="none" stroke="#979797" stroke-width="1"/>
<path d="M31,543.45H33.5" stroke="#979797" stroke-width="1"/>
<text x="30.6" y="547.75" text-anchor="end" class="tk">0</text>
<path d="M31,490.91H33.5" stroke="#979797" stroke-width="1"/>
<text x="30.6" y="495.21" text-anchor="end" class="tk">25</text>
<path d="M31,438.38H33.5" stroke="#979797" stroke-width="1"/>
<text x="30.6" y="442.68" text-anchor="end" class="tk">50</text>
<path d="M31,385.84H33.5" stroke="#979797" stroke-width="1"/>
<text x="30.6" y="390.14" text-anchor="end" class="tk">75</text>
<path d="M31,333.3H33.5" stroke="#979797" stroke-width="1"/>
<text x="30.6" y="337.6" text-anchor="end" class="tk">100</text>
<path d="M48.97,554.5V557" stroke="#979797" stroke-width="1"/>
<text x="48.97" y="565.9" text-anchor="middle" class="tk">0</text>
<path d="M65.12,554.5V557" stroke="#979797" stroke-width="1"/>
<text x="65.12" y="565.9" text-anchor="middle" class="tk">1</text>
<path d="M81.27,554.5V557" stroke="#979797" stroke-width="1"/>
<text x="81.27" y="565.9" text-anchor="middle" class="tk">2</text>
<path d="M97.42,554.5V557" stroke="#979797" stroke-width="1"/>
<text x="97.42" y="565.9" text-anchor="middle" class="tk">3</text>
<path d="M113.57,554.5V557" stroke="#979797" stroke-width="1"/>
<text x="113.57" y="565.9" text-anchor="middle" class="tk">4</text>
<path d="M129.72,554.5V557" stroke="#979797" stroke-width="1"/>
<text x="129.72" y="565.9" text-anchor="middle" class="tk">5</text>
<path d="M145.87,554.5V557" stroke="#979797" stroke-width="1"/>
<text x="145.87" y="565.9" text-anchor="middle" class="tk">6</text>
<path d="M162.02,554.5V557" stroke="#979797" stroke-width="1"/>
<text x="162.02" y="565.9" text-anchor="middle" class="tk">7</text>
<path d="M178.17,554.5V557" stroke="#979797" stroke-width="1"/>
<text x="178.17" y="565.9" text-anchor="middle" class="tk">8</text>
<path d="M194.32,554.5V557" stroke="#979797" stroke-width="1"/>
<text x="194.32" y="565.9" text-anchor="middle" class="tk">9</text>
<path d="M210.47,554.5V557" stroke="#979797" stroke-width="1"/>
<text x="210.47" y="565.9" text-anchor="middle" class="tk">10</text>
<path d="M226.62,554.5V557" stroke="#979797" stroke-width="1"/>
<text x="226.62" y="565.9" text-anchor="middle" class="tk">11</text>
<path d="M242.77,554.5V557" stroke="#979797" stroke-width="1"/>
<text x="242.77" y="565.9" text-anchor="middle" class="tk">12</text>
<path d="M258.92,554.5V557" stroke="#979797" stroke-width="1"/>
<text x="258.92" y="565.9" text-anchor="middle" class="tk">13</text>
<path d="M275.07,554.5V557" stroke="#979797" stroke-width="1"/>
<text x="275.07" y="565.9" text-anchor="middle" class="tk">14</text>
<path d="M291.22,554.5V557" stroke="#979797" stroke-width="1"/>
<text x="291.22" y="565.9" text-anchor="middle" class="tk">15</text>
<path d="M307.37,554.5V557" stroke="#979797" stroke-width="1"/>
<text x="307.37" y="565.9" text-anchor="middle" class="tk">16</text>
<path d="M323.52,554.5V557" stroke="#979797" stroke-width="1"/>
<text x="323.52" y="565.9" text-anchor="middle" class="tk">17</text>
<path d="M394.67,333.3H410.82V333.3H426.97V336.66H443.12V336.66H459.27V342.13H475.42V342.13H491.57V342.13H507.72V347.8H523.87V348.85H540.02V348.85H556.17V348.22H572.32V348.01H588.47V350.74H604.62V353.05H620.77V357.26H636.92V359.99H653.07V359.99H669.22V359.99" fill="none" stroke="#c3cbe6" stroke-width="1.5"/>
<path d="M394.67,333.3H410.82V333.3H426.97V334.98H443.12V337.5H459.27V340.45H475.42V341.71H491.57V341.71H507.72V348.01H523.87V350.11H540.02V350.53H556.17V354.32H572.32V354.32H588.47V357.26H604.62V360.83H620.77V360.83H636.92V360.83H653.07V360.83H669.22V363.77" fill="none" stroke="#c3cbe6" stroke-width="1.5"/>
<path d="M394.67,333.3H410.82V333.3H426.97V333.3H443.12V333.3H459.27V333.3H475.42V337.71H491.57V341.92H507.72V344.86H523.87V344.86H540.02V348.01H556.17V351.16H572.32V350.53H588.47V350.53H604.62V356.42H620.77V353.05H636.92V359.57H653.07V359.57H669.22V359.99" fill="none" stroke="#ffd0d8" stroke-width="1.5" stroke-dasharray="4.285 4.285"/>
<path d="M394.67,333.3H410.82V333.3H426.97V334.98H443.12V335.4H459.27V339.81H475.42V344.65H491.57V346.96H507.72V354.1H523.87V366.5H540.02V381.21H556.17V397.19H572.32V397.19H588.47V402.86H604.62V416.73H620.77V423.87H636.92V430.39H653.07V440.27H669.22V447.41" fill="none" stroke="#ffd0d8" stroke-width="1.5" stroke-dasharray="4.285 4.285"/>
<path d="M394.67,333.3H410.82V333.3H426.97V340.02H443.12V342.34H459.27V346.54H475.42V356.63H491.57V368.18H507.72V385.21H523.87V392.56H540.02V401.18H556.17V406.85H572.32V406.85H588.47V414H604.62V426.82H620.77V426.82H636.92V430.18H653.07V430.18H669.22V430.18" fill="none" stroke="#fbbcd8" stroke-width="1.5" stroke-dasharray="4.285 4.285"/>
<path d="M394.67,333.3H410.82V333.3H426.97V335.4H443.12V340.66H459.27V346.96H475.42V356.63H491.57V364.4H507.72V381.42H523.87V392.56H540.02V398.66H556.17V415.26H572.32V426.82H588.47V452.03H604.62V485.66H620.77V488.81H636.92V508.14H653.07V515.08H669.22V524.96" fill="none" stroke="#fbbcd8" stroke-width="1.5" stroke-dasharray="4.285 4.285"/>
<path d="M394.67,333.3H410.82V333.3H426.97V338.13H443.12V343.39H459.27V355.58H475.42V357.26H491.57V366.5H507.72V395.92H523.87V408.53H540.02V414H556.17V422.82H572.32V435.22H588.47V441H604.62V460.02H620.77V462.96H636.92V462.96H653.07V462.96H669.22V462.96" fill="none" stroke="#cfa3bb" stroke-width="1.5"/>
<path d="M394.67,333.3H410.82V333.3H426.97V333.3H443.12V333.3H459.27V335.61H475.42V340.02H491.57V347.38H507.72V361.04H523.87V372.39H540.02V387.52H556.17V412.11H572.32V424.08H588.47V445.31H604.62V481.04H620.77V498.48H636.92V511.51H653.07V511.51H669.22V515.08" fill="none" stroke="#cfa3bb" stroke-width="1.5"/>
<path d="M426.97,333.51V339.81M425.37,333.51H428.57M425.37,339.81H428.57M443.12,333.51V339.81M441.52,333.51H444.72M441.52,339.81H444.72M459.27,337.5V346.75M457.67,337.5H460.87M457.67,346.75H460.87M475.42,337.5V346.75M473.82,337.5H477.02M473.82,346.75H477.02M491.57,337.5V346.75M489.97,337.5H493.17M489.97,346.75H493.17M507.72,341.5V354.1M506.12,341.5H509.32M506.12,354.1H509.32M523.87,340.45V357.26M522.27,340.45H525.47M522.27,357.26H525.47M540.02,340.45V357.26M538.42,340.45H541.62M538.42,357.26H541.62M556.17,342.76V353.68M554.57,342.76H557.77M554.57,353.68H557.77M572.32,342.55V353.47M570.72,342.55H573.92M570.72,353.47H573.92M588.47,343.6V357.89M586.87,343.6H590.07M586.87,357.89H590.07M604.62,340.45V365.66M603.02,340.45H606.22M603.02,365.66H606.22M620.77,347.8V366.71M619.17,347.8H622.37M619.17,366.71H622.37M636.92,348.01V371.97M635.32,348.01H638.52M635.32,371.97H638.52M653.07,348.01V371.97M651.47,348.01H654.67M651.47,371.97H654.67M669.22,347.8V372.18M667.62,347.8H670.82M667.62,372.18H670.82" fill="none" stroke="#8fbdf1" stroke-width="1"/>
<path d="M426.97,332.88V337.08M425.37,332.88H428.57M425.37,337.08H428.57M443.12,334.35V340.66M441.52,334.35H444.72M441.52,340.66H444.72M459.27,336.24V344.65M457.67,336.24H460.87M457.67,344.65H460.87M475.42,337.5V345.91M473.82,337.5H477.02M473.82,345.91H477.02M491.57,337.5V345.91M489.97,337.5H493.17M489.97,345.91H493.17M507.72,342.76V353.26M506.12,342.76H509.32M506.12,353.26H509.32M523.87,343.39V356.84M522.27,343.39H525.47M522.27,356.84H525.47M540.02,343.81V357.26M538.42,343.81H541.62M538.42,357.26H541.62M556.17,348.85V359.78M554.57,348.85H557.77M554.57,359.78H557.77M572.32,348.85V359.78M570.72,348.85H573.92M570.72,359.78H573.92M588.47,350.11V364.4M586.87,350.11H590.07M586.87,364.4H590.07M604.62,352.95V368.71M603.02,352.95H606.22M603.02,368.71H606.22M620.77,352.95V368.71M619.17,352.95H622.37M619.17,368.71H622.37M636.92,352.63V369.03M635.32,352.63H638.52M635.32,369.03H638.52M653.07,352.63V369.03M651.47,352.63H654.67M651.47,369.03H654.67M669.22,356.84V370.71M667.62,356.84H670.82M667.62,370.71H670.82" fill="none" stroke="#8fbdf1" stroke-width="1"/>
<path d="M475.42,333.51V341.92M473.82,333.51H477.02M473.82,341.92H477.02M491.57,336.66V347.17M489.97,336.66H493.17M489.97,347.17H493.17M507.72,338.55V351.16M506.12,338.55H509.32M506.12,351.16H509.32M523.87,338.55V351.16M522.27,338.55H525.47M522.27,351.16H525.47M540.02,341.71V354.32M538.42,341.71H541.62M538.42,354.32H541.62M556.17,343.81V358.52M554.57,343.81H557.77M554.57,358.52H557.77M572.32,343.18V357.89M570.72,343.18H573.92M570.72,357.89H573.92M588.47,342.13V358.94M586.87,342.13H590.07M586.87,358.94H590.07M604.62,344.02V368.82M603.02,344.02H606.22M603.02,368.82H606.22M620.77,339.6V366.5M619.17,339.6H622.37M619.17,366.5H622.37M636.92,347.8V371.34M635.32,347.8H638.52M635.32,371.34H638.52M653.07,347.8V371.34M651.47,347.8H654.67M651.47,371.34H654.67M669.22,348.22V371.76M667.62,348.22H670.82M667.62,371.76H670.82" fill="none" stroke="#ffd3db" stroke-width="1"/>
<path d="M426.97,332.88V337.08M425.37,332.88H428.57M425.37,337.08H428.57M443.12,332.25V338.55M441.52,332.25H444.72M441.52,338.55H444.72M459.27,335.61V344.02M457.67,335.61H460.87M457.67,344.02H460.87M475.42,339.39V349.9M473.82,339.39H477.02M473.82,349.9H477.02M491.57,340.66V353.26M489.97,340.66H493.17M489.97,353.26H493.17M507.72,346.75V361.46M506.12,346.75H509.32M506.12,361.46H509.32M523.87,358.1V374.91M522.27,358.1H525.47M522.27,374.91H525.47M540.02,371.13V391.3M538.42,371.13H541.62M538.42,391.3H541.62M556.17,384.16V410.21M554.57,384.16H557.77M554.57,410.21H557.77M572.32,385.63V408.74M570.72,385.63H573.92M570.72,408.74H573.92M588.47,390.88V414.84M586.87,390.88H590.07M586.87,414.84H590.07M604.62,400.97V432.49M603.02,400.97H606.22M603.02,432.49H606.22M620.77,404.96V442.79M619.17,404.96H622.37M619.17,442.79H622.37M636.92,407.9V452.88M635.32,407.9H638.52M635.32,452.88H638.52M653.07,419.25V461.28M651.47,419.25H654.67M651.47,461.28H654.67M669.22,427.45V467.38M667.62,427.45H670.82M667.62,467.38H670.82" fill="none" stroke="#ffd3db" stroke-width="1"/>
<path d="M426.97,335.82V344.23M425.37,335.82H428.57M425.37,344.23H428.57M443.12,337.08V347.59M441.52,337.08H444.72M441.52,347.59H444.72M459.27,340.23V352.84M457.67,340.23H460.87M457.67,352.84H460.87M475.42,344.23V369.03M473.82,344.23H477.02M473.82,369.03H477.02M491.57,356.21V380.16M489.97,356.21H493.17M489.97,380.16H493.17M507.72,367.55V402.86M506.12,367.55H509.32M506.12,402.86H509.32M523.87,376.17V408.95M522.27,376.17H525.47M522.27,408.95H525.47M540.02,385.42V416.94M538.42,385.42H541.62M538.42,416.94H541.62M556.17,388.78V424.93M554.57,388.78H557.77M554.57,424.93H557.77M572.32,392.14V421.56M570.72,392.14H573.92M570.72,421.56H573.92M588.47,399.29V428.71M586.87,399.29H590.07M586.87,428.71H590.07M604.62,408.32V445.31M603.02,408.32H606.22M603.02,445.31H606.22M620.77,407.9V445.73M619.17,407.9H622.37M619.17,445.73H622.37M636.92,410.64V449.72M635.32,410.64H638.52M635.32,449.72H638.52M653.07,410.64V449.72M651.47,410.64H654.67M651.47,449.72H654.67M669.22,410.64V449.72M667.62,410.64H670.82M667.62,449.72H670.82" fill="none" stroke="#fbbfdb" stroke-width="1"/>
<path d="M426.97,333.3V337.5M425.37,333.3H428.57M425.37,337.5H428.57M443.12,336.45V344.86M441.52,336.45H444.72M441.52,344.86H444.72M459.27,339.08V354.84M457.67,339.08H460.87M457.67,354.84H460.87M475.42,348.64V364.61M473.82,348.64H477.02M473.82,364.61H477.02M491.57,357.05V371.76M489.97,357.05H493.17M489.97,371.76H493.17M507.72,368.82V394.03M506.12,368.82H509.32M506.12,394.03H509.32M523.87,383.11V402.02M522.27,383.11H525.47M522.27,402.02H525.47M540.02,388.99V408.32M538.42,388.99H541.62M538.42,408.32H541.62M556.17,407.69V422.82M554.57,407.69H557.77M554.57,422.82H557.77M572.32,417.99V435.64M570.72,417.99H573.92M570.72,435.64H573.92M588.47,439.85V464.22M586.87,439.85H590.07M586.87,464.22H590.07M604.62,470.53V500.79M603.02,470.53H606.22M603.02,500.79H606.22M620.77,473.47V504.15M619.17,473.47H622.37M619.17,504.15H622.37M636.92,495.54V520.75M635.32,495.54H638.52M635.32,520.75H638.52M653.07,502.47V527.69M651.47,502.47H654.67M651.47,527.69H654.67M669.22,517.39V532.52M667.62,517.39H670.82M667.62,532.52H670.82" fill="none" stroke="#fbbfdb" stroke-width="1"/>
<path d="M426.97,334.98V341.29M425.37,334.98H428.57M425.37,341.29H428.57M443.12,338.13V348.64M441.52,338.13H444.72M441.52,348.64H444.72M459.27,349.27V361.88M457.67,349.27H460.87M457.67,361.88H460.87M475.42,349.9V364.61M473.82,349.9H477.02M473.82,364.61H477.02M491.57,358.1V374.91M489.97,358.1H493.17M489.97,374.91H493.17M507.72,383.32V408.53M506.12,383.32H509.32M506.12,408.53H509.32M523.87,395.92V421.14M522.27,395.92H525.47M522.27,421.14H525.47M540.02,400.34V427.66M538.42,400.34H541.62M538.42,427.66H541.62M556.17,409.16V436.48M554.57,409.16H557.77M554.57,436.48H557.77M572.32,420.51V449.93M570.72,420.51H573.92M570.72,449.93H573.92M588.47,425.24V456.76M586.87,425.24H590.07M586.87,456.76H590.07M604.62,442.16V477.88M603.02,442.16H606.22M603.02,477.88H606.22M620.77,445.1V480.83M619.17,445.1H622.37M619.17,480.83H622.37M636.92,445.1V480.83M635.32,445.1H638.52M635.32,480.83H638.52M653.07,445.1V480.83M651.47,445.1H654.67M651.47,480.83H654.67M669.22,445.1V480.83M667.62,445.1H670.82M667.62,480.83H670.82" fill="none" stroke="#c996b3" stroke-width="1"/>
<path d="M459.27,333.51V337.71M457.67,333.51H460.87M457.67,337.71H460.87M475.42,335.82V344.23M473.82,335.82H477.02M473.82,344.23H477.02M491.57,341.08V353.68M489.97,341.08H493.17M489.97,353.68H493.17M507.72,352.63V369.45M506.12,352.63H509.32M506.12,369.45H509.32M523.87,361.88V382.9M522.27,361.88H525.47M522.27,382.9H525.47M540.02,374.91V400.13M538.42,374.91H541.62M538.42,400.13H541.62M556.17,399.5V424.72M554.57,399.5H557.77M554.57,424.72H557.77M572.32,411.48V436.69M570.72,411.48H573.92M570.72,436.69H573.92M588.47,431.65V458.97M586.87,431.65H590.07M586.87,458.97H590.07M604.62,468.74V493.33M603.02,468.74H606.22M603.02,493.33H606.22M620.77,489.44V507.51M619.17,489.44H622.37M619.17,507.51H622.37M636.92,502.37V520.65M635.32,502.37H638.52M635.32,520.65H638.52M653.07,502.37V520.65M651.47,502.37H654.67M651.47,520.65H654.67M669.22,506.67V523.49M667.62,506.67H670.82M667.62,523.49H670.82" fill="none" stroke="#c996b3" stroke-width="1"/>
<path d="M426.97,333.08L430.07,338.45L423.87,338.45Z" fill="#1a78e6"/><path d="M443.12,333.08L446.22,338.45L440.02,338.45Z" fill="#1a78e6"/><path d="M459.27,338.55L462.37,343.92L456.17,343.92Z" fill="#1a78e6"/><path d="M475.42,338.55L478.52,343.92L472.32,343.92Z" fill="#1a78e6"/><path d="M507.72,344.22L510.82,349.59L504.62,349.59Z" fill="#1a78e6"/><path d="M523.87,345.27L526.97,350.64L520.77,350.64Z" fill="#1a78e6"/><path d="M540.02,345.27L543.12,350.64L536.92,350.64Z" fill="#1a78e6"/><path d="M556.17,344.64L559.27,350.01L553.07,350.01Z" fill="#1a78e6"/><path d="M572.32,344.43L575.42,349.8L569.22,349.8Z" fill="#1a78e6"/><path d="M604.62,349.47L607.72,354.84L601.52,354.84Z" fill="#1a78e6"/><path d="M620.77,353.68L623.87,359.05L617.67,359.05Z" fill="#1a78e6"/>
<path d="M426.97,329.72L430.07,335.09L423.87,335.09Z" fill="#ffa8b8"/><path d="M443.12,329.72L446.22,335.09L440.02,335.09Z" fill="#ffa8b8"/><path d="M459.27,329.72L462.37,335.09L456.17,335.09Z" fill="#ffa8b8"/><path d="M475.42,334.13L478.52,339.5L472.32,339.5Z" fill="#ffa8b8"/><path d="M491.57,338.34L494.67,343.71L488.47,343.71Z" fill="#ffa8b8"/><path d="M507.72,341.28L510.82,346.65L504.62,346.65Z" fill="#ffa8b8"/><path d="M523.87,341.28L526.97,346.65L520.77,346.65Z" fill="#ffa8b8"/><path d="M540.02,344.43L543.12,349.8L536.92,349.8Z" fill="#ffa8b8"/><path d="M556.17,347.58L559.27,352.95L553.07,352.95Z" fill="#ffa8b8"/><path d="M572.32,346.95L575.42,352.32L569.22,352.32Z" fill="#ffa8b8"/><path d="M588.47,346.95L591.57,352.32L585.37,352.32Z" fill="#ffa8b8"/><path d="M604.62,352.84L607.72,358.21L601.52,358.21Z" fill="#ffa8b8"/><path d="M620.77,349.47L623.87,354.84L617.67,354.84Z" fill="#ffa8b8"/><path d="M636.92,355.99L640.02,361.36L633.82,361.36Z" fill="#ffa8b8"/><path d="M653.07,355.99L656.17,361.36L649.97,361.36Z" fill="#ffa8b8"/><path d="M669.22,356.41L672.32,361.78L666.12,361.78Z" fill="#ffa8b8"/>
<path d="M426.97,336.45L430.07,341.81L423.87,341.81Z" fill="#fa64aa"/><path d="M443.12,338.76L446.22,344.13L440.02,344.13Z" fill="#fa64aa"/><path d="M459.27,342.96L462.37,348.33L456.17,348.33Z" fill="#fa64aa"/><path d="M475.42,353.05L478.52,358.42L472.32,358.42Z" fill="#fa64aa"/><path d="M491.57,364.61L494.67,369.97L488.47,369.97Z" fill="#fa64aa"/><path d="M507.72,381.63L510.82,387L504.62,387Z" fill="#fa64aa"/><path d="M523.87,388.98L526.97,394.35L520.77,394.35Z" fill="#fa64aa"/><path d="M540.02,397.6L543.12,402.97L536.92,402.97Z" fill="#fa64aa"/><path d="M556.17,403.27L559.27,408.64L553.07,408.64Z" fill="#fa64aa"/><path d="M572.32,403.27L575.42,408.64L569.22,408.64Z" fill="#fa64aa"/><path d="M588.47,410.42L591.57,415.79L585.37,415.79Z" fill="#fa64aa"/><path d="M604.62,423.24L607.72,428.61L601.52,428.61Z" fill="#fa64aa"/><path d="M620.77,423.24L623.87,428.61L617.67,428.61Z" fill="#fa64aa"/><path d="M636.92,426.6L640.02,431.97L633.82,431.97Z" fill="#fa64aa"/><path d="M653.07,426.6L656.17,431.97L649.97,431.97Z" fill="#fa64aa"/><path d="M669.22,426.6L672.32,431.97L666.12,431.97Z" fill="#fa64aa"/>
<path d="M394.67,329.72L397.77,335.09L391.57,335.09Z" fill="#822a5a"/><path d="M410.82,329.72L413.92,335.09L407.72,335.09Z" fill="#822a5a"/><path d="M426.97,334.55L430.07,339.92L423.87,339.92Z" fill="#822a5a"/><path d="M443.12,339.81L446.22,345.18L440.02,345.18Z" fill="#822a5a"/><path d="M459.27,352L462.37,357.37L456.17,357.37Z" fill="#822a5a"/><path d="M475.42,353.68L478.52,359.05L472.32,359.05Z" fill="#822a5a"/><path d="M491.57,362.92L494.67,368.29L488.47,368.29Z" fill="#822a5a"/><path d="M507.72,392.35L510.82,397.71L504.62,397.71Z" fill="#822a5a"/><path d="M523.87,404.95L526.97,410.32L520.77,410.32Z" fill="#822a5a"/><path d="M540.02,410.42L543.12,415.79L536.92,415.79Z" fill="#822a5a"/><path d="M556.17,419.24L559.27,424.61L553.07,424.61Z" fill="#822a5a"/><path d="M572.32,431.64L575.42,437.01L569.22,437.01Z" fill="#822a5a"/><path d="M588.47,437.42L591.57,442.79L585.37,442.79Z" fill="#822a5a"/><path d="M604.62,456.44L607.72,461.81L601.52,461.81Z" fill="#822a5a"/><path d="M620.77,459.38L623.87,464.75L617.67,464.75Z" fill="#822a5a"/><path d="M636.92,459.38L640.02,464.75L633.82,464.75Z" fill="#822a5a"/><path d="M653.07,459.38L656.17,464.75L649.97,464.75Z" fill="#822a5a"/><path d="M669.22,459.38L672.32,464.75L666.12,464.75Z" fill="#822a5a"/>
<circle cx="443.12" cy="337.5" r="2.45" fill="#1a78e6"/><circle cx="459.27" cy="340.45" r="2.45" fill="#1a78e6"/><circle cx="475.42" cy="341.71" r="2.45" fill="#1a78e6"/><circle cx="491.57" cy="341.71" r="2.45" fill="#1a78e6"/><circle cx="507.72" cy="348.01" r="2.45" fill="#1a78e6"/><circle cx="523.87" cy="350.11" r="2.45" fill="#1a78e6"/><circle cx="540.02" cy="350.53" r="2.45" fill="#1a78e6"/><circle cx="556.17" cy="354.32" r="2.45" fill="#1a78e6"/><circle cx="572.32" cy="354.32" r="2.45" fill="#1a78e6"/><circle cx="588.47" cy="357.26" r="2.45" fill="#1a78e6"/><circle cx="604.62" cy="360.83" r="2.45" fill="#1a78e6"/><circle cx="620.77" cy="360.83" r="2.45" fill="#1a78e6"/><circle cx="636.92" cy="360.83" r="2.45" fill="#1a78e6"/><circle cx="653.07" cy="360.83" r="2.45" fill="#1a78e6"/><circle cx="669.22" cy="363.77" r="2.45" fill="#1a78e6"/>
<circle cx="443.12" cy="335.4" r="2.45" fill="#ffa8b8"/><circle cx="459.27" cy="339.81" r="2.45" fill="#ffa8b8"/><circle cx="475.42" cy="344.65" r="2.45" fill="#ffa8b8"/><circle cx="507.72" cy="354.1" r="2.45" fill="#ffa8b8"/><circle cx="523.87" cy="366.5" r="2.45" fill="#ffa8b8"/><circle cx="540.02" cy="381.21" r="2.45" fill="#ffa8b8"/><circle cx="556.17" cy="397.19" r="2.45" fill="#ffa8b8"/><circle cx="572.32" cy="397.19" r="2.45" fill="#ffa8b8"/><circle cx="588.47" cy="402.86" r="2.45" fill="#ffa8b8"/><circle cx="604.62" cy="416.73" r="2.45" fill="#ffa8b8"/><circle cx="620.77" cy="423.87" r="2.45" fill="#ffa8b8"/><circle cx="636.92" cy="430.39" r="2.45" fill="#ffa8b8"/><circle cx="653.07" cy="440.27" r="2.45" fill="#ffa8b8"/><circle cx="669.22" cy="447.41" r="2.45" fill="#ffa8b8"/>
<circle cx="426.97" cy="335.4" r="2.45" fill="#fa64aa"/><circle cx="443.12" cy="340.66" r="2.45" fill="#fa64aa"/><circle cx="459.27" cy="346.96" r="2.45" fill="#fa64aa"/><circle cx="475.42" cy="356.63" r="2.45" fill="#fa64aa"/><circle cx="491.57" cy="364.4" r="2.45" fill="#fa64aa"/><circle cx="507.72" cy="381.42" r="2.45" fill="#fa64aa"/><circle cx="523.87" cy="392.56" r="2.45" fill="#fa64aa"/><circle cx="540.02" cy="398.66" r="2.45" fill="#fa64aa"/><circle cx="556.17" cy="415.26" r="2.45" fill="#fa64aa"/><circle cx="572.32" cy="426.82" r="2.45" fill="#fa64aa"/><circle cx="588.47" cy="452.03" r="2.45" fill="#fa64aa"/><circle cx="604.62" cy="485.66" r="2.45" fill="#fa64aa"/><circle cx="620.77" cy="488.81" r="2.45" fill="#fa64aa"/><circle cx="636.92" cy="508.14" r="2.45" fill="#fa64aa"/><circle cx="653.07" cy="515.08" r="2.45" fill="#fa64aa"/><circle cx="669.22" cy="524.96" r="2.45" fill="#fa64aa"/>
<circle cx="394.67" cy="333.3" r="2.45" fill="#822a5a"/><circle cx="410.82" cy="333.3" r="2.45" fill="#822a5a"/><circle cx="426.97" cy="333.3" r="2.45" fill="#822a5a"/><circle cx="443.12" cy="333.3" r="2.45" fill="#822a5a"/><circle cx="459.27" cy="335.61" r="2.45" fill="#822a5a"/><circle cx="475.42" cy="340.02" r="2.45" fill="#822a5a"/><circle cx="491.57" cy="347.38" r="2.45" fill="#822a5a"/><circle cx="507.72" cy="361.04" r="2.45" fill="#822a5a"/><circle cx="523.87" cy="372.39" r="2.45" fill="#822a5a"/><circle cx="540.02" cy="387.52" r="2.45" fill="#822a5a"/><circle cx="556.17" cy="412.11" r="2.45" fill="#822a5a"/><circle cx="572.32" cy="424.08" r="2.45" fill="#822a5a"/><circle cx="588.47" cy="445.31" r="2.45" fill="#822a5a"/><circle cx="604.62" cy="481.04" r="2.45" fill="#822a5a"/><circle cx="620.77" cy="498.48" r="2.45" fill="#822a5a"/><circle cx="636.92" cy="511.51" r="2.45" fill="#822a5a"/><circle cx="653.07" cy="511.51" r="2.45" fill="#822a5a"/><circle cx="669.22" cy="515.08" r="2.45" fill="#822a5a"/>
<rect x="379.5" y="322.5" width="305" height="232" fill="none" stroke="#979797" stroke-width="1"/>
<path d="M377,543.45H379.5" stroke="#979797" stroke-width="1"/>
<text x="376.6" y="547.75" text-anchor="end" class="tk">0</text>
<path d="M377,490.91H379.5" stroke="#979797" stroke-width="1"/>
<text x="376.6" y="495.21" text-anchor="end" class="tk">25</text>
<path d="M377,438.38H379.5" stroke="#979797" stroke-width="1"/>
<text x="376.6" y="442.68" text-anchor="end" class="tk">50</text>
<path d="M377,385.84H379.5" stroke="#979797" stroke-width="1"/>
<text x="376.6" y="390.14" text-anchor="end" class="tk">75</text>
<path d="M377,333.3H379.5" stroke="#979797" stroke-width="1"/>
<text x="376.6" y="337.6" text-anchor="end" class="tk">100</text>
<path d="M394.67,554.5V557" stroke="#979797" stroke-width="1"/>
<text x="394.67" y="565.9" text-anchor="middle" class="tk">0</text>
<path d="M410.82,554.5V557" stroke="#979797" stroke-width="1"/>
<text x="410.82" y="565.9" text-anchor="middle" class="tk">1</text>
<path d="M426.97,554.5V557" stroke="#979797" stroke-width="1"/>
<text x="426.97" y="565.9" text-anchor="middle" class="tk">2</text>
<path d="M443.12,554.5V557" stroke="#979797" stroke-width="1"/>
<text x="443.12" y="565.9" text-anchor="middle" class="tk">3</text>
<path d="M459.27,554.5V557" stroke="#979797" stroke-width="1"/>
<text x="459.27" y="565.9" text-anchor="middle" class="tk">4</text>
<path d="M475.42,554.5V557" stroke="#979797" stroke-width="1"/>
<text x="475.42" y="565.9" text-anchor="middle" class="tk">5</text>
<path d="M491.57,554.5V557" stroke="#979797" stroke-width="1"/>
<text x="491.57" y="565.9" text-anchor="middle" class="tk">6</text>
<path d="M507.72,554.5V557" stroke="#979797" stroke-width="1"/>
<text x="507.72" y="565.9" text-anchor="middle" class="tk">7</text>
<path d="M523.87,554.5V557" stroke="#979797" stroke-width="1"/>
<text x="523.87" y="565.9" text-anchor="middle" class="tk">8</text>
<path d="M540.02,554.5V557" stroke="#979797" stroke-width="1"/>
<text x="540.02" y="565.9" text-anchor="middle" class="tk">9</text>
<path d="M556.17,554.5V557" stroke="#979797" stroke-width="1"/>
<text x="556.17" y="565.9" text-anchor="middle" class="tk">10</text>
<path d="M572.32,554.5V557" stroke="#979797" stroke-width="1"/>
<text x="572.32" y="565.9" text-anchor="middle" class="tk">11</text>
<path d="M588.47,554.5V557" stroke="#979797" stroke-width="1"/>
<text x="588.47" y="565.9" text-anchor="middle" class="tk">12</text>
<path d="M604.62,554.5V557" stroke="#979797" stroke-width="1"/>
<text x="604.62" y="565.9" text-anchor="middle" class="tk">13</text>
<path d="M620.77,554.5V557" stroke="#979797" stroke-width="1"/>
<text x="620.77" y="565.9" text-anchor="middle" class="tk">14</text>
<path d="M636.92,554.5V557" stroke="#979797" stroke-width="1"/>
<text x="636.92" y="565.9" text-anchor="middle" class="tk">15</text>
<path d="M653.07,554.5V557" stroke="#979797" stroke-width="1"/>
<text x="653.07" y="565.9" text-anchor="middle" class="tk">16</text>
<path d="M669.22,554.5V557" stroke="#979797" stroke-width="1"/>
<text x="669.22" y="565.9" text-anchor="middle" class="tk">17</text>
<path d="M52,239.9H65.2" stroke="#8fbdf1" stroke-width="1"/>
<path d="M52,239.9H65.2" stroke="#2f86e8" stroke-width="1.9"/>
<text x="73.3" y="243.5" class="lg">dsGFP (5 &#956;g/&#956;L)</text>
<path d="M52,256.5H65.2" stroke="#ffd3db" stroke-width="1"/>
<path d="M52,256.5H56.9M62,256.5H65.2" stroke="#ff9aae" stroke-width="1.4"/>
<text x="73.3" y="260.1" class="lg">ds&#945;COP (0.5 &#956;g/&#956;L)</text>
<path d="M400,240.4H413.2" stroke="#8fbdf1" stroke-width="1"/>
<path d="M400,240.4H413.2" stroke="#2f86e8" stroke-width="1.9"/>
<text x="421.3" y="244" class="lg">dsGFP (5 &#956;g/&#956;L)</text>
<path d="M400,256.9H413.2" stroke="#fbbfdb" stroke-width="1"/>
<path d="M400,256.9H404.9M410,256.9H413.2" stroke="#f872b0" stroke-width="1.4"/>
<text x="421.3" y="260.5" class="lg">ds&#945;COP (2.5 &#956;g/&#956;L)</text>
<path d="M51.4,516.2H64.6" stroke="#8fbdf1" stroke-width="1"/>
<path d="M51.4,516.2H64.6" stroke="#2f86e8" stroke-width="1.9"/>
<text x="72.7" y="519.8" class="lg">dsGFP (5 &#956;g/&#956;L)</text>
<path d="M51.4,532.6H64.6" stroke="#c996b3" stroke-width="1"/>
<path d="M51.4,532.6H64.6" stroke="#8a3a66" stroke-width="1.9"/>
<text x="72.7" y="536.2" class="lg">ds&#945;COP (5 &#956;g/&#956;L)</text>
<path d="M398.4,483H411.6" stroke="#8fbdf1" stroke-width="1"/>
<path d="M398.4,483H411.6" stroke="#2f86e8" stroke-width="1.9"/>
<text x="419.7" y="486.6" class="lg">dsGFP (5 &#956;g/&#956;L)</text>
<path d="M398.4,499.7H411.6" stroke="#ffd3db" stroke-width="1"/>
<path d="M398.4,499.7H403.3M408.4,499.7H411.6" stroke="#ff9aae" stroke-width="1.4"/>
<text x="419.7" y="503.3" class="lg">ds&#945;COP (0.5 &#956;g/&#956;L)</text>
<path d="M398.4,516.1H411.6" stroke="#fbbfdb" stroke-width="1"/>
<path d="M398.4,516.1H403.3M408.4,516.1H411.6" stroke="#f872b0" stroke-width="1.4"/>
<text x="419.7" y="519.7" class="lg">ds&#945;COP (2.5 &#956;g/&#956;L)</text>
<path d="M398.4,532.6H411.6" stroke="#c996b3" stroke-width="1"/>
<path d="M398.4,532.6H411.6" stroke="#8a3a66" stroke-width="1.9"/>
<text x="419.7" y="536.2" class="lg">ds&#945;COP (5 &#956;g/&#956;L)</text>
<circle cx="209.95" cy="145.05" r="4.6" fill="none" stroke="#ffa8b8" stroke-width="0.9"/><path d="M209.95,145.35L209.95,143.05M209.95,145.35L212.14,144.64M209.95,145.35L211.3,147.21M209.95,145.35L208.6,147.21M209.95,145.35L207.76,144.64" stroke="#ffa8b8" stroke-width="1.2" stroke-linecap="round" fill="none"/>
<path d="M210,154.5L207.5,164.3M212.9,154.5L210.3,164.3M207.3,158.1L214,158.1M206.3,161.2L213.2,161.2" stroke="#ffa8b8" stroke-width="1.15" fill="none"/>
<circle cx="523.5" cy="145" r="4.6" fill="none" stroke="#fa64aa" stroke-width="0.9"/><path d="M523.5,145.3L523.5,143M523.5,145.3L525.69,144.59M523.5,145.3L524.85,147.16M523.5,145.3L522.15,147.16M523.5,145.3L521.31,144.59" stroke="#fa64aa" stroke-width="1.2" stroke-linecap="round" fill="none"/>
<path d="M636.7,251.4L634.2,261.2M639.6,251.4L637,261.2M634,255L640.7,255M633,258.1L639.9,258.1" stroke="#fa64aa" stroke-width="1.15" fill="none"/>
<path d="M177.6,430.5L183.5,442.3L171.7,442.3Z" fill="none" stroke="#822a5a" stroke-width="0.9" stroke-linejoin="miter"/><path d="M177.6,438.6L177.6,436.3M177.6,438.6L179.79,437.89M177.6,438.6L178.95,440.46M177.6,438.6L176.25,440.46M177.6,438.6L175.41,437.89" stroke="#822a5a" stroke-width="1.2" stroke-linecap="round" fill="none"/>
<circle cx="193.9" cy="438.1" r="4.6" fill="none" stroke="#822a5a" stroke-width="0.9"/><path d="M193.9,438.4L193.9,436.1M193.9,438.4L196.09,437.69M193.9,438.4L195.25,440.26M193.9,438.4L192.55,440.26M193.9,438.4L191.71,437.69" stroke="#822a5a" stroke-width="1.2" stroke-linecap="round" fill="none"/>
<path d="M523.4,424.6L529.3,436.4L517.5,436.4Z" fill="none" stroke="#822a5a" stroke-width="0.9" stroke-linejoin="miter"/><path d="M523.4,432.7L523.4,430.4M523.4,432.7L525.59,431.99M523.4,432.7L524.75,434.56M523.4,432.7L522.05,434.56M523.4,432.7L521.21,431.99" stroke="#822a5a" stroke-width="1.2" stroke-linecap="round" fill="none"/>
<circle cx="523" cy="442.8" r="4.6" fill="none" stroke="#fa64aa" stroke-width="0.9"/><path d="M523,443.1L523,440.8M523,443.1L525.19,442.39M523,443.1L524.35,444.96M523,443.1L521.65,444.96M523,443.1L520.81,442.39" stroke="#fa64aa" stroke-width="1.2" stroke-linecap="round" fill="none"/>
<circle cx="539.5" cy="442.8" r="4.6" fill="none" stroke="#822a5a" stroke-width="0.9"/><path d="M539.5,443.1L539.5,440.8M539.5,443.1L541.69,442.39M539.5,443.1L540.85,444.96M539.5,443.1L538.15,444.96M539.5,443.1L537.31,442.39" stroke="#822a5a" stroke-width="1.2" stroke-linecap="round" fill="none"/>
<circle cx="555.8" cy="442.8" r="4.6" fill="none" stroke="#ffa8b8" stroke-width="0.9"/><path d="M555.8,443.1L555.8,440.8M555.8,443.1L557.99,442.39M555.8,443.1L557.15,444.96M555.8,443.1L554.45,444.96M555.8,443.1L553.61,442.39" stroke="#ffa8b8" stroke-width="1.2" stroke-linecap="round" fill="none"/>
<path d="M556.1,452.4L553.6,462.2M559,452.4L556.4,462.2M553.4,456L560.1,456M552.4,459.1L559.3,459.1" stroke="#ffa8b8" stroke-width="1.15" fill="none"/>
<path d="M636.7,527.7L634.2,537.5M639.6,527.7L637,537.5M634,531.3L640.7,531.3M633,534.4L639.9,534.4" stroke="#fa64aa" stroke-width="1.15" fill="none"/>
<text x="0.5" y="41.9" class="pl">a</text>
<text x="346.6" y="41.9" class="pl">b</text>
<text x="0.4" y="317.9" class="pl">c</text>
<text x="346.4" y="317.9" class="pl">d</text>
<text transform="translate(8.9,162) rotate(-90)" text-anchor="middle" class="at">% survival</text>
<text transform="translate(8.9,438.6) rotate(-90)" text-anchor="middle" class="at">% survival</text>
<text x="186.2" y="576.8" text-anchor="middle" class="at">days</text>
<text x="532.2" y="576.8" text-anchor="middle" class="at">days</text>
<path d="M518.7,0.21L522.5,6.79L514.9,6.79Z" fill="#000"/>
<circle cx="518.8" cy="22.8" r="3" fill="#000"/>
<text x="534.2" y="8.8" class="tl">short-term dsRNA feeding</text>
<text x="534.5" y="26.8" class="tl">chronic dsRNA feeding</text>
</svg>
</body></html>
